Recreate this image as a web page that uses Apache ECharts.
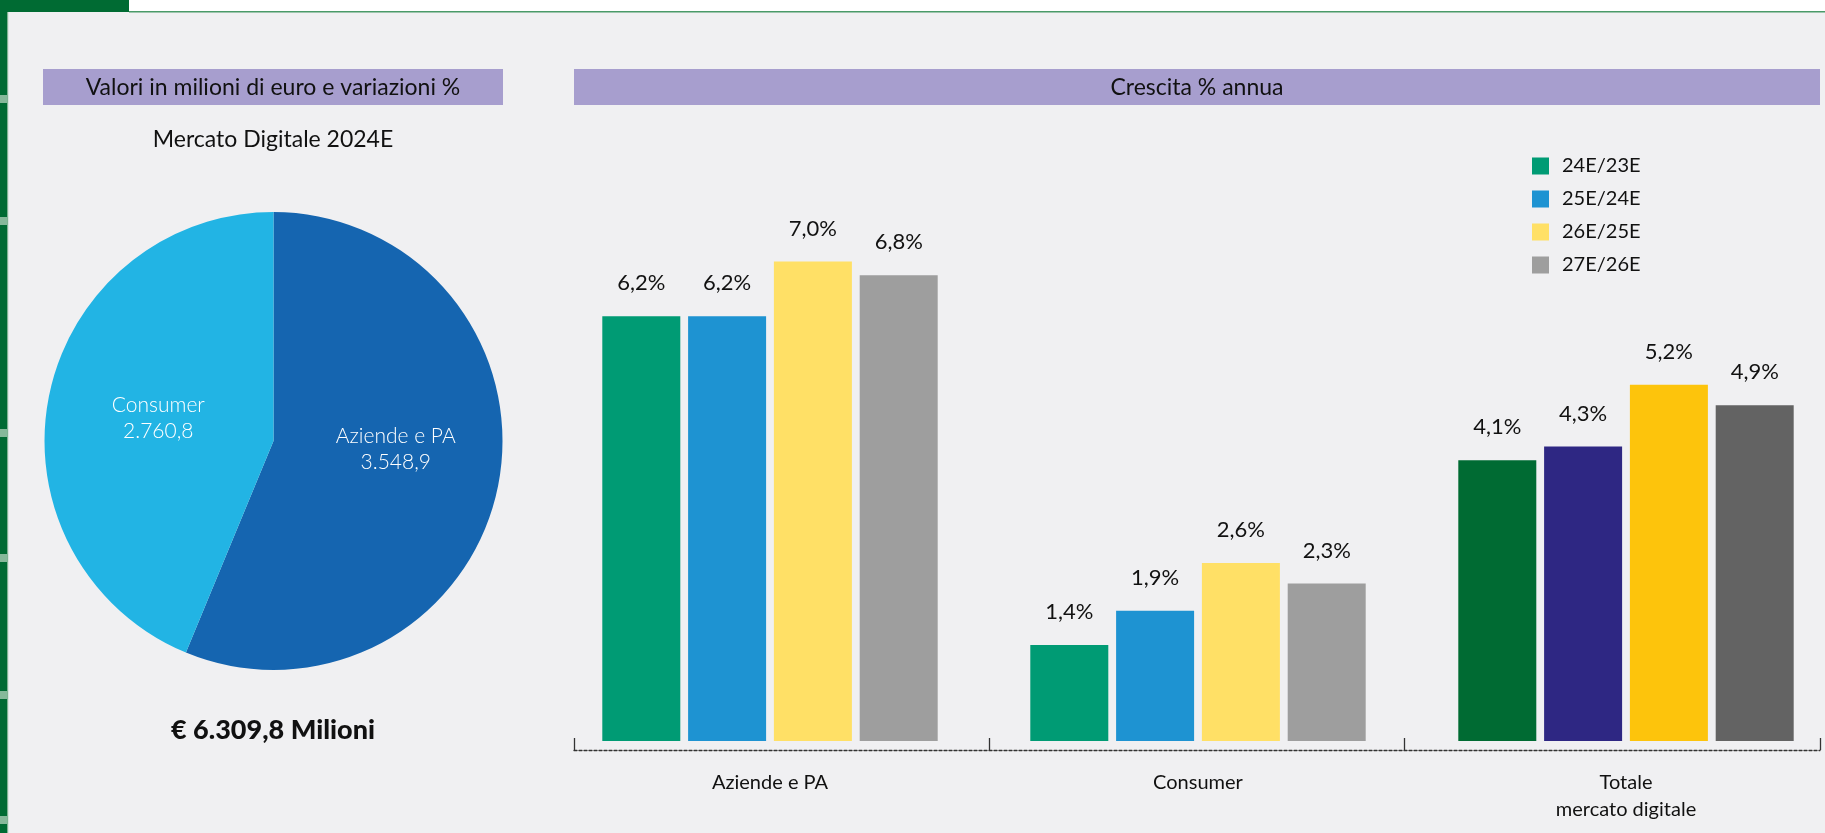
<!DOCTYPE html>
<html><head><meta charset="utf-8">
<script src="https://cdn.jsdelivr.net/npm/echarts@6/dist/echarts.min.js"></script>
<style>html,body{margin:0;padding:0;background:#f0f0f2}#c{width:1825px;height:833px}</style>
</head><body><div id="c"></div>
<script>
// ---- data ----
const categories = ['Aziende e PA', 'Consumer', 'Totale\nmercato digitale'];
const periods = ['24E/23E', '25E/24E', '26E/25E', '27E/26E'];
const growth2423 = [6.2, 1.4, 4.1];
const growth2524 = [6.2, 1.9, 4.3];
const growth2625 = [7.0, 2.6, 5.2];
const growth2726 = [6.8, 2.3, 4.9];
const pieNames = ['Aziende e PA', 'Consumer'];
const pieValues = [3548.9, 2760.8];
const leftHeader = 'Valori in milioni di euro e variazioni %';
const rightHeader = 'Crescita % annua';
const pieTitle = 'Mercato Digitale 2024E';
const totalLabel = '€ 6.309,8 Milioni';

// ---- styles ----
const FONT = 'Lato, "Noto Sans", sans-serif';
const baseColors = ['#009b74', '#1e93d2', '#ffe066', '#9e9e9e'];
const totalColors = ['#006b33', '#2e2783', '#fdc40c', '#636363'];
const pieColors = ['#1565b0', '#22b4e4'];

function fmtIt(v, d) {
  const parts = v.toFixed(d).split('.');
  parts[0] = parts[0].replace(/\B(?=(\d{3})+(?!\d))/g, '.');
  return parts.join(',');
}

const growthSeries = [growth2423, growth2524, growth2625, growth2726];
const barSeries = growthSeries.map((vals, i) => ({
  type: 'bar',
  name: periods[i],
  xAxisIndex: 0,
  yAxisIndex: 0,
  barWidth: 78,
  barGap: '10%',
  itemStyle: { color: baseColors[i] },
  data: vals.map((v, j) => j === 2 ? { value: v, itemStyle: { color: totalColors[i] } } : v),
  label: {
    show: true,
    position: 'top',
    distance: 22,
    formatter: p => fmtIt(p.value, 1) + '%',
    fontSize: 22,
    fontFamily: FONT,
    color: '#111'
  },
  emphasis: { disabled: true }
}));

const marksY = [99, 221, 433, 558, 695, 820];
const txt = (text, x, y, size, weight) => ({
  type: 'text', z: 5,
  style: { text: text, x: x, y: y, align: 'center', verticalAlign: 'middle', textAlign: 'center', textVerticalAlign: 'middle', fontSize: size, fontWeight: weight || 'normal', fontFamily: FONT, fill: '#111' }
});
const graphic = [
  { type: 'rect', z: -10, shape: { x: 0, y: 0, width: 1825, height: 11 }, style: { fill: '#ffffff' } },
  { type: 'rect', z: -9, shape: { x: 129, y: 11, width: 1696, height: 1.6 }, style: { fill: '#4a9a68' } },
  { type: 'rect', z: -9, shape: { x: 0, y: 0, width: 129, height: 12 }, style: { fill: '#006b33' } },
  { type: 'rect', z: -9, shape: { x: 0, y: 0, width: 7, height: 833 }, style: { fill: '#006b33' } },
  { type: 'rect', z: -9, shape: { x: 7, y: 12, width: 1.2, height: 821 }, style: { fill: '#7fb392' } },
  ...marksY.map(y => ({ type: 'rect', z: -8, shape: { x: 0, y: y - 4, width: 7, height: 8 }, style: { fill: '#86b99a' } })),
  { type: 'rect', z: -8, shape: { x: 43, y: 69, width: 460, height: 36 }, style: { fill: '#a79ece' } },
  { type: 'rect', z: -8, shape: { x: 574, y: 69, width: 1246, height: 36 }, style: { fill: '#a79ece' } },
  txt(leftHeader, 273, 88, 23),
  txt(rightHeader, 1197, 88, 23),
  txt(pieTitle, 273, 140, 23),
  txt(totalLabel, 273, 730, 27, 900)
];

const chart = echarts.init(document.getElementById('c'), null, { renderer: 'canvas' });
chart.setOption({
  backgroundColor: '#f0f0f2',
  animation: false,
  textStyle: { fontFamily: FONT },
  graphic: graphic,
  legend: {
    data: periods,
    orient: 'vertical',
    left: 1527,
    top: 151,
    itemWidth: 17,
    itemHeight: 17,
    itemGap: 13,
    icon: 'rect',
    selectedMode: false,
    textStyle: { fontSize: 20, color: '#111', fontFamily: FONT, padding: [0, 0, 0, 8] }
  },
  grid: [
    { left: 556, width: 1284, top: 193, height: 548, outerBoundsMode: 'none', containLabel: false },
    { left: 574, width: 1246, top: 690, height: 60, outerBoundsMode: 'none', containLabel: false }
  ],
  xAxis: [
    {
      gridIndex: 0, type: 'category', data: categories,
      axisLine: { show: false }, axisTick: { show: false },
      axisLabel: { fontSize: 20, color: '#111', lineHeight: 27, margin: 28, fontFamily: FONT }
    },
    {
      gridIndex: 1, type: 'category', data: categories,
      axisLine: { show: true, onZero: false, lineStyle: { color: '#333', type: [3, 2], width: 1.3 } },
      axisTick: { show: true, inside: true, length: 12, lineStyle: { color: '#333', width: 1.3 } },
      axisLabel: { show: false }
    }
  ],
  yAxis: [
    { gridIndex: 0, type: 'value', min: 0, max: 8, show: false },
    { gridIndex: 1, type: 'value', min: 0, max: 1, show: false }
  ],
  series: [
    {
      type: 'pie',
      center: [273.5, 441],
      radius: 229,
      startAngle: 90,
      clockwise: true,
      silent: true,
      label: {
        show: true,
        position: 'inside',
        color: '#fff',
        fontSize: 21,
        fontWeight: 300,
        lineHeight: 26,
        fontFamily: FONT,
        formatter: p => p.name + '\n' + fmtIt(p.value, 1)
      },
      labelLine: { show: false },
      emphasis: { disabled: true },
      data: pieNames.map((n, i) => ({
        name: n, value: pieValues[i], itemStyle: { color: pieColors[i] },
        label: i === 0 ? { offset: [7, -15] } : {}
      }))
    },
    ...barSeries
  ]
});
</script>
</body></html>
